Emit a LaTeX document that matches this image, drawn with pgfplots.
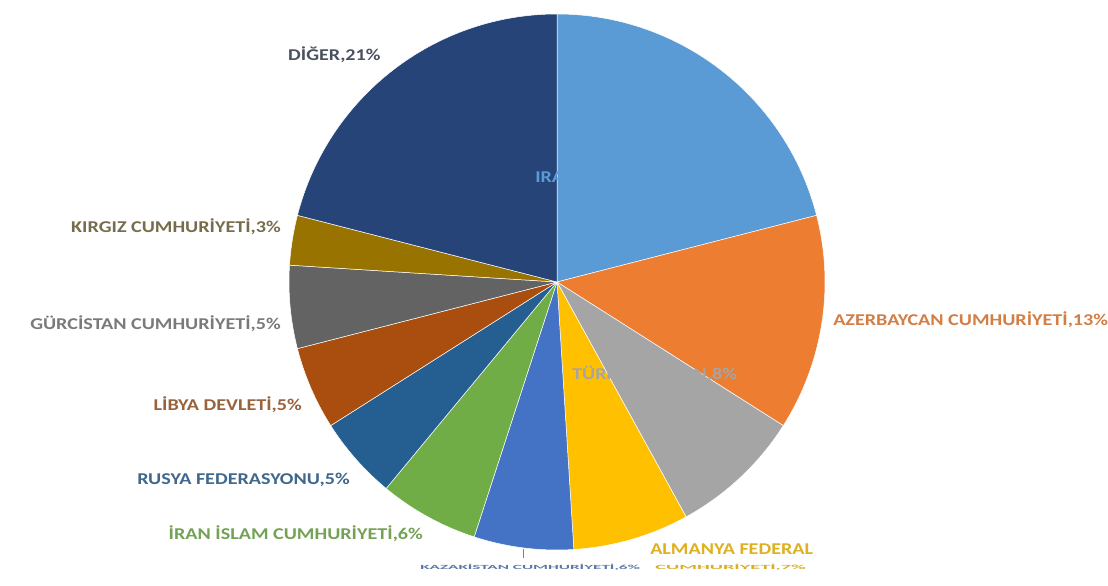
\documentclass[border=0pt]{standalone}
\usepackage{pgfplots}
\usepackage{pgfplotstable}
\pgfplotsset{compat=1.18}
\usepackage{fontspec}
\setmainfont{Carlito}

\definecolor{c0}{HTML}{5B9BD5}
\definecolor{c1}{HTML}{ED7D31}
\definecolor{c2}{HTML}{A5A5A5}
\definecolor{c3}{HTML}{FFC000}
\definecolor{c4}{HTML}{4472C4}
\definecolor{c5}{HTML}{70AD47}
\definecolor{c6}{HTML}{255E91}
\definecolor{c7}{HTML}{A94E0F}
\definecolor{c8}{HTML}{636363}
\definecolor{c9}{HTML}{997300}
\definecolor{c10}{HTML}{264478}

\pgfplotstableread[col sep=comma]{
value,color
21,c0
13,c1
8,c2
7,c3
6,c4
6,c5
5,c6
5,c7
5,c8
3,c9
21,c10
}\piedata
\pgfplotstablecreatecol[create col/expr accum={\pgfmathaccuma+\thisrow{value}}{0}]{cum}{\piedata}

\tikzset{lbl/.style={font=\bfseries\fontsize{16.5}{18}\selectfont, inner sep=0pt, xscale=1.22}}

\begin{document}
\begin{tikzpicture}[x=1pt,y=1pt]
\useasboundingbox (0,0) rectangle (1108,586);
\clip (0,0) rectangle (1108,586);
\fill[white] (0,0) rectangle (1108,586);
\begin{axis}[
  at={(557pt,304pt)}, anchor=center,
  width=536pt, height=536pt, scale only axis,
  xmin=-1, xmax=1, ymin=-1, ymax=1,
  hide axis, clip=false]
\pgfplotsextra{%
\foreach \i in {0,...,10}{
  \pgfplotstablegetelem{\i}{value}\of\piedata \let\v\pgfplotsretval
  \pgfplotstablegetelem{\i}{cum}\of\piedata \let\cu\pgfplotsretval
  \pgfplotstablegetelem{\i}{color}\of\piedata \let\cc\pgfplotsretval
  \pgfmathsetmacro\sa{90-3.6*(\cu-\v)}
  \pgfmathsetmacro\ea{90-3.6*\cu}
  \fill[color=\cc, draw=white, line width=0.5pt]
    (axis cs:0,0) -- ++(\sa:268pt) arc[start angle=\sa, end angle=\ea, radius=268pt] -- cycle;
}}
\end{axis}
% labels
\node[lbl, anchor=mid west, text=c0] at (535,406) {IRAK CUMHURİYETİ,21\%};
\node[lbl, anchor=mid west, text=c2] at (572,209) {TÜRKMENİSTAN,8\%};
\node[lbl, anchor=mid west, text=c10!35!black!75!white] at (288,528) {DİĞER,21\%};
\node[lbl, anchor=mid east, text=c9!40!black!70!white] at (281,356) {KIRGIZ CUMHURİYETİ,3\%};
\node[lbl, anchor=mid east, text=c8!85!white] at (281,259) {GÜRCİSTAN CUMHURİYETİ,5\%};
\node[lbl, anchor=mid east, text=c7!60!gray] at (302,178) {LİBYA DEVLETİ,5\%};
\node[lbl, anchor=mid east, text=c6!70!gray] at (350,104) {RUSYA FEDERASYONU,5\%};
\node[lbl, anchor=mid east, text=c5!75!gray] at (423,49) {İRAN İSLAM CUMHURİYETİ,6\%};
\node[lbl, anchor=mid west, text=c1!75!gray] at (833,263) {AZERBAYCAN CUMHURİYETİ,13\%};
\node[lbl, anchor=mid west, text=c3!75!gray] at (650,34) {ALMANYA FEDERAL};
\draw[gray, line width=0.8pt] (523,37) -- (523,28);
\node[anchor=mid west, inner sep=0pt, text=c4!60!gray, xscale=1.9, yscale=0.7, font=\bfseries\fontsize{9}{10}\selectfont] at (420,18) {KAZAKİSTAN CUMHURİYETİ,6\%};
\node[anchor=mid west, inner sep=0pt, text=c3!70!gray, xscale=2.25, yscale=0.7, font=\bfseries\fontsize{9}{10}\selectfont] at (655,18) {CUMHURİYETİ,7\%};
\end{tikzpicture}
\end{document}
